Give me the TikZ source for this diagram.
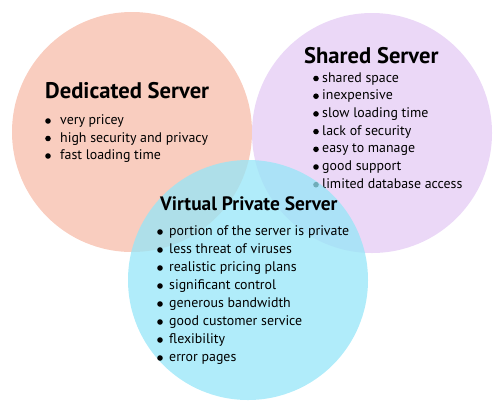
\documentclass[tikz,border=0pt]{standalone}
\usepackage{fontspec}
\setmainfont{PT Sans}
\definecolor{salmon}{RGB}{249,205,191}
\definecolor{lav}{RGB}{235,216,247}
\definecolor{aqua}{RGB}{150,230,248}
\begin{document}
\begin{tikzpicture}[x=1pt,y=-1pt,
  blob/.style={circle,minimum size=240pt,inner sep=0pt,draw=none},
  title/.style={anchor=base west,inner sep=0pt,font=\bfseries\fontsize{22.6}{22.6}\selectfont,text=black},
  item/.style={anchor=base west,inner sep=0pt,font=\fontsize{13.9}{13.9}\selectfont,text=black},
  dot/.style={circle,fill=black,inner sep=0pt,minimum size=5.6pt}]
\useasboundingbox (0,0) rectangle (500,416);
\node[blob,fill=salmon] (ded) at (132,132) {};
\node[blob,fill=lav] (sha) at (372,133) {};
% Dedicated
\node[title] (dedT) at (45,98) {Dedicated Server};
\foreach \t [count=\i] in {very pricey,high security and privacy,fast loading time}{
  \node[dot] (dedB\i) at (48,{121+17.5*(\i-1)}) {};
  \node[item] (dedI\i) at (60,{124.5+17.5*(\i-1)}) {\t};
}
% Shared
\node[title] (shaT) at (304,63) {Shared Server};
\foreach \t [count=\i] in {shared space,inexpensive,slow loading time,lack of security,easy to manage,good support,limited database access}{
  \node[dot] (shaB\i) at (316,{78.5+17.7*(\i-1)}) {};
  \node[item] (shaI\i) at (322,{82+17.7*(\i-1)}) {\t};
}
% VPS circle drawn over
\node[blob,fill=aqua,fill opacity=0.75] (vps) at (248,280) {};
\node[title,font=\bfseries\fontsize{19.4}{19.4}\selectfont] (vpsT) at (160,210) {Virtual Private Server};
\foreach \t [count=\i] in {portion of the server is private,less threat of viruses,realistic pricing plans,significant control,generous bandwidth,good customer service,flexibility,error pages}{
  \node[dot] (vpsB\i) at (160,{232+18*(\i-1)}) {};
  \node[item] (vpsI\i) at (169,{235.5+18*(\i-1)}) {\t};
}
\end{tikzpicture}
\end{document}
